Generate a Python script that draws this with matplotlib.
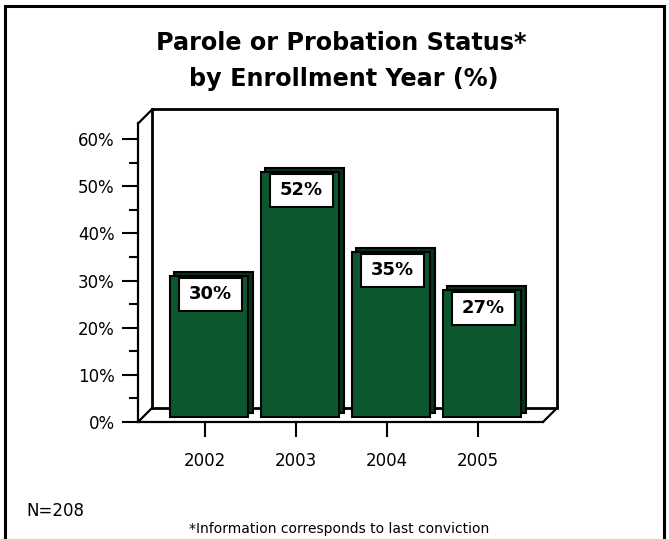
import matplotlib.pyplot as plt
from matplotlib.patches import Rectangle
from matplotlib.ticker import MultipleLocator, FuncFormatter

# Datos
years = ['2002', '2003', '2004', '2005']
pct = [30, 52, 35, 27]
labels = ['30%', '52%', '35%', '27%']

W, H = 669, 539
green = '#0c572e'

fig = plt.figure(figsize=(W / 100, H / 100), dpi=100)
fig.patch.set_facecolor('white')

# plano frontal del grafico (en pixeles de la imagen)
px_left, px_right, px_bottom, px_top = 138.3, 543.3, 421.7, 123.3
ax = fig.add_axes([px_left / W, 1 - px_bottom / H,
                   (px_right - px_left) / W, (px_bottom - px_top) / H])
x0, x1 = -0.732, 3.716
y0, y1 = 0, 63.4
ax.set_xlim(x0, x1)
ax.set_ylim(y0, y1)
ax.patch.set_visible(False)

# pixeles -> unidades de datos
ux = (px_right - px_left) / (x1 - x0)
uy = (px_bottom - px_top) / (y1 - y0)
dx, dy = 14 / ux, 14 / uy  # profundidad del "3D"

lw_wall = 2.0
# pared del fondo
ax.plot([x0 + dx, x0 + dx, x1 + dx, x1 + dx, x0 + dx],
        [y0 + dy, y1 + dy, y1 + dy, y0 + dy, y0 + dy],
        color='black', lw=lw_wall, clip_on=False, zorder=1,
        solid_joinstyle='miter')
# pared izquierda (diagonal de arriba) y diagonales del piso
ax.plot([x0, x0 + dx], [y1, y1 + dy], color='black', lw=1.6, clip_on=False, zorder=1)
ax.plot([x0, x0 + dx], [y0, y0 + dy], color='black', lw=1.6, clip_on=False, zorder=1)
ax.plot([x1, x1 + dx], [y0, y0 + dy], color='black', lw=1.6, clip_on=False, zorder=1)

# barras con un poco de profundidad
pos = list(range(len(years)))
bw = 78.4 / ux
fx, fy = 4 / ux, 5 / uy        # cara frontal
bx, by = 8.5 / ux, 8.5 / uy    # cara trasera
ax.bar([p + bx for p in pos], pct, width=bw, bottom=by, color='#06331b',
       edgecolor='black', linewidth=1.5, zorder=2, clip_on=False)
ax.bar([p + fx for p in pos], pct, width=bw, bottom=fy, color=green,
       edgecolor='black', linewidth=1.5, zorder=3, clip_on=False)

# etiquetas con recuadro blanco
box_w, box_h = 63 / ux, 33 / uy
for p, v, lab in zip(pos, pct, labels):
    bl = p + fx - bw / 2 + 9 / ux
    btop = v + fy - 2 / uy
    ax.add_patch(Rectangle((bl, btop - box_h), box_w, box_h, facecolor='white',
                           edgecolor='black', linewidth=1.5, zorder=4))
    ax.text(bl + box_w / 2, btop - box_h / 2, lab, ha='center', va='center',
            fontsize=13, fontweight='bold', zorder=5)

# ejes
for s in ['top', 'right']:
    ax.spines[s].set_visible(False)
ax.spines['left'].set_linewidth(1.6)
ax.spines['bottom'].set_linewidth(1.6)
ax.spines['left'].set_zorder(1.5)
ax.spines['bottom'].set_zorder(1.5)

ax.set_yticks([0, 10, 20, 30, 40, 50, 60])
ax.yaxis.set_minor_locator(MultipleLocator(5))
ax.yaxis.set_major_formatter(FuncFormatter(lambda v, _: f'{v:.0f}%'))
ax.tick_params(axis='y', which='major', direction='out', length=11.5, width=1.5,
               pad=5.4, labelsize=12)
ax.tick_params(axis='y', which='minor', direction='out', length=6.2, width=1.5)

ax.set_xticks(pos)
ax.set_xticklabels(years)
ax.tick_params(axis='x', direction='out', length=10.8, width=1.5, pad=11,
               labelsize=12)

# titulo y notas
fig.text(341 / W, 1 - 50 / H, 'Parole or Probation Status*', ha='center',
         va='baseline', fontsize=17.2, fontweight='bold')
fig.text(344 / W, 1 - 86 / H, 'by Enrollment Year (%)', ha='center',
         va='baseline', fontsize=17.2, fontweight='bold')
fig.text(26 / W, 1 - 516 / H, 'N=208', ha='left', va='baseline', fontsize=12)
fig.text(339.6 / W, 1 - 533 / H, '*Information corresponds to last conviction',
         ha='center', va='baseline', fontsize=10)

# marco
fig.add_artist(Rectangle((5.3 / W, -0.05), (663.5 - 5.3) / W, 1 - 6 / H + 0.05,
                         transform=fig.transFigure, fill=False,
                         edgecolor='black', linewidth=2.2))

fig.savefig('out.png', dpi=100)
